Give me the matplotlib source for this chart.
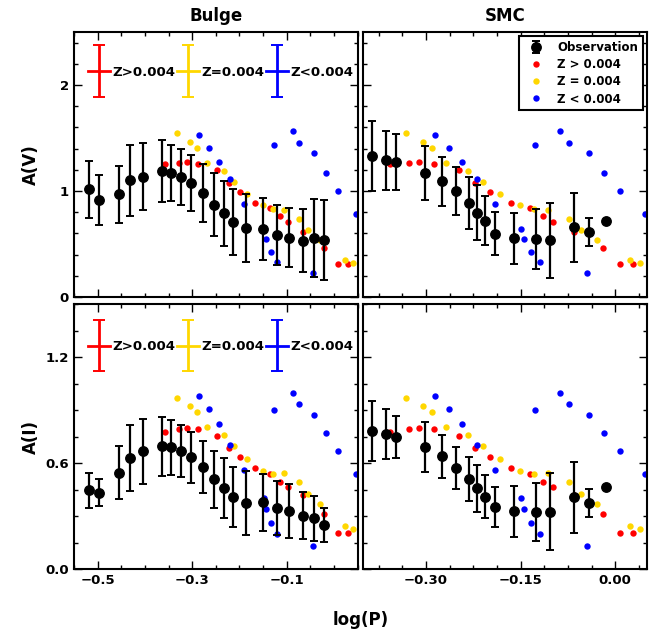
import numpy as np
import matplotlib
matplotlib.use("Agg")
import matplotlib.pyplot as plt
from matplotlib.ticker import AutoMinorLocator, MultipleLocator, FixedLocator
from matplotlib.container import ErrorbarContainer
from matplotlib.legend_handler import HandlerErrorbar

# ---- model points (same log(P) grid in all panels) ----
red_logp = [-0.357, -0.327, -0.311, -0.287, -0.247, -0.222, -0.198, -0.166, -0.135,
            -0.115, -0.098, -0.066, -0.020, 0.008, 0.029]
red_av = [1.256, 1.269, 1.272, 1.256, 1.194, 1.075, 0.991, 0.891, 0.838,
          0.763, 0.703, 0.613, 0.459, 0.313, 0.316]
red_ai = [0.777, 0.795, 0.799, 0.795, 0.754, 0.685, 0.636, 0.570, 0.538,
          0.495, 0.467, 0.420, 0.311, 0.206, 0.205]

yel_logp = [-0.332, -0.305, -0.290, -0.269, -0.233, -0.2105, -0.183, -0.1505, -0.128,
            -0.106, -0.073, -0.055, -0.029, 0.024, 0.040]
yel_av = [1.547, 1.4625, 1.406, 1.2625, 1.1875, 1.084, 0.969, 0.872, 0.828,
          0.817, 0.734, 0.634, 0.5375, 0.350, 0.322]
yel_ai = [0.970, 0.921, 0.889, 0.805, 0.758, 0.694, 0.621, 0.557, 0.537,
          0.542, 0.490, 0.426, 0.370, 0.246, 0.229]

blu_logp = [-0.286, -0.264, -0.243, -0.220, -0.190, -0.149, -0.144, -0.134, -0.127,
            -0.120, -0.087, -0.073, -0.044, -0.042, -0.017, 0.008, 0.047]
blu_av = [1.528, 1.409, 1.275, 1.109, 0.881, 0.638, 0.544, 0.425, 1.434,
          0.334, 1.5625, 1.456, 0.222, 1.356, 1.172, 0.997, 0.784]
blu_ai = [0.979, 0.904, 0.820, 0.704, 0.561, 0.400, 0.340, 0.261, 0.902,
          0.197, 0.998, 0.932, 0.129, 0.874, 0.769, 0.670, 0.540]

# ---- observations: Bulge ----
bul_logp = [-0.518, -0.497, -0.455, -0.431, -0.404, -0.364, -0.344, -0.323, -0.302, -0.277,
            -0.253, -0.232, -0.213, -0.185, -0.151, -0.121, -0.096, -0.066, -0.043, -0.020]
bul_av = [1.016, 0.913, 0.969, 1.100, 1.134, 1.188, 1.172, 1.131, 1.075, 0.981,
          0.869, 0.788, 0.706, 0.650, 0.641, 0.588, 0.559, 0.531, 0.556, 0.534]
bul_av_err = [0.269, 0.234, 0.270, 0.333, 0.317, 0.289, 0.266, 0.263, 0.263, 0.275,
              0.297, 0.306, 0.309, 0.320, 0.294, 0.283, 0.277, 0.295, 0.364, 0.378]
bul_ai = [0.445, 0.433, 0.546, 0.629, 0.666, 0.696, 0.689, 0.666, 0.632, 0.576,
          0.507, 0.458, 0.407, 0.375, 0.377, 0.345, 0.327, 0.302, 0.287, 0.251]
bul_ai_err = [0.100, 0.077, 0.148, 0.189, 0.182, 0.167, 0.155, 0.147, 0.146, 0.147,
              0.162, 0.169, 0.169, 0.180, 0.162, 0.155, 0.153, 0.134, 0.128, 0.096]

# ---- observations: SMC ----
smc_logp = [-0.386, -0.363, -0.348, -0.302, -0.275, -0.252, -0.232, -0.219,
            -0.207, -0.191, -0.160, -0.126, -0.104, -0.065, -0.042, -0.014]
smc_av = [1.328, 1.288, 1.272, 1.169, 1.090, 1.000, 0.888, 0.797,
          0.719, 0.597, 0.553, 0.547, 0.534, 0.656, 0.613, 0.713]
smc_av_err = [0.331, 0.275, 0.263, 0.258, 0.228, 0.227, 0.244, 0.256,
              0.231, 0.203, 0.238, 0.286, 0.356, 0.328, 0.134, 0.0]
smc_ai = [0.782, 0.764, 0.749, 0.689, 0.638, 0.572, 0.510, 0.458,
          0.409, 0.351, 0.326, 0.323, 0.325, 0.405, 0.373, 0.467]
smc_ai_err = [0.169, 0.142, 0.118, 0.141, 0.120, 0.120, 0.125, 0.133,
              0.121, 0.116, 0.143, 0.163, 0.219, 0.202, 0.081, 0.0]

model_colors = ['red', 'gold', 'blue']
labels_short = ['Z>0.004', 'Z=0.004', 'Z<0.004']
labels_long = ['Z > 0.004', 'Z = 0.004', 'Z < 0.004']

plt.rcParams['font.family'] = ['DejaVu Sans']
plt.rcParams['font.weight'] = 'bold'
plt.rcParams['axes.labelweight'] = 'bold'
plt.rcParams['axes.titleweight'] = 'bold'
plt.rcParams['axes.linewidth'] = 1.5

fig, axes = plt.subplots(2, 2, figsize=(6.54, 6.34), dpi=100, sharex='col', sharey='row')
fig.subplots_adjust(left=0.1131, right=0.9888, top=0.9495, bottom=0.1025,
                    wspace=0.0194, hspace=0.0264)

models = [(red_logp, red_av, red_ai), (yel_logp, yel_av, yel_ai), (blu_logp, blu_av, blu_ai)]
obs = [(bul_logp, bul_av, bul_av_err, bul_ai, bul_ai_err),
       (smc_logp, smc_av, smc_av_err, smc_ai, smc_ai_err)]

for col in range(2):
    lp, av, av_e, ai, ai_e = obs[col]
    for row in range(2):
        ax = axes[row, col]
        for (mx, mav, mai), c, lab in zip(models, model_colors, labels_long):
            ax.plot(mx, mav if row == 0 else mai, 'o', color=c, ms=4.6, mew=0,
                    label=lab, zorder=2)
        ax.errorbar(lp, av if row == 0 else ai, yerr=av_e if row == 0 else ai_e,
                    fmt='o', color='k', ms=6.8, elinewidth=1.6, capsize=3, capthick=1.4,
                    label='Observation', zorder=3)

# axis limits & ticks
for ax in axes[:, 0]:
    ax.set_xlim(-0.55, 0.05)
    ax.xaxis.set_major_locator(FixedLocator([-0.5, -0.3, -0.1]))
for ax in axes[:, 1]:
    ax.set_xlim(-0.40, 0.05)
    ax.xaxis.set_major_locator(MultipleLocator(0.15))
for ax in axes[0]:
    ax.set_ylim(0, 2.5)
    ax.yaxis.set_major_locator(MultipleLocator(1))
for ax in axes[1]:
    ax.set_ylim(0, 1.5)
    ax.yaxis.set_major_locator(MultipleLocator(0.6))

for ax in axes.flat:
    ax.xaxis.set_minor_locator(AutoMinorLocator(4))
    ax.yaxis.set_minor_locator(AutoMinorLocator(5 if ax in axes[0] else 4))
    ax.tick_params(which='both', direction='in', top=True, right=True, labelsize=9.5)
    ax.tick_params(which='major', length=6, width=1)
    ax.tick_params(which='minor', length=3, width=1)
    for lab in ax.get_xticklabels() + ax.get_yticklabels():
        lab.set_fontweight('bold')

axes[0, 0].set_title('Bulge', fontsize=12, pad=8)
axes[0, 1].set_title('SMC', fontsize=12, pad=8)
axes[0, 0].set_ylabel('A(V)', fontsize=12)
axes[1, 0].set_ylabel('A(I)', fontsize=12)
for ax in axes[:, 0]:
    ax.yaxis.set_label_coords(-0.12, 0.5)
fig.text(0.551, 0.022, 'log(P)', fontsize=12, fontweight='bold', ha='center', va='center')

# cross-style legends in the Bulge panels
for ax, yc in zip(axes[:, 0], [0.848, 0.839]):
    hs = []
    for c, lab in zip(model_colors, labels_short):
        h = ax.errorbar([np.nan], [np.nan], yerr=[0.1], fmt='-', color=c, lw=2,
                        capsize=4, capthick=1.4, label=lab)
        hs.append(h)
    ax.legend(handles=hs, loc='center left', bbox_to_anchor=(0.05, yc), ncol=3,
              frameon=False, fontsize=9.6, numpoints=1, handlelength=1.64,
              handletextpad=0.2, columnspacing=0.1, borderpad=0, borderaxespad=0,
              handler_map={ErrorbarContainer: HandlerErrorbar(xerr_size=0.5, yerr_size=1.93)},
              prop={'weight': 'bold', 'size': 9.6})

# standard legend in the SMC V panel
ax = axes[0, 1]
handles, labs = ax.get_legend_handles_labels()
order = [labs.index('Observation')] + [labs.index(l) for l in labels_long]
leg = ax.legend([handles[i] for i in order], [labs[i] for i in order], loc='upper right',
                numpoints=1, fancybox=False, framealpha=1, edgecolor='k',
                borderaxespad=0.35, labelspacing=0.36, handlelength=2, handletextpad=0.8,
                prop={'weight': 'bold', 'size': 8.5})
leg.get_frame().set_linewidth(1.5)

fig.savefig('out.png', dpi=100)
